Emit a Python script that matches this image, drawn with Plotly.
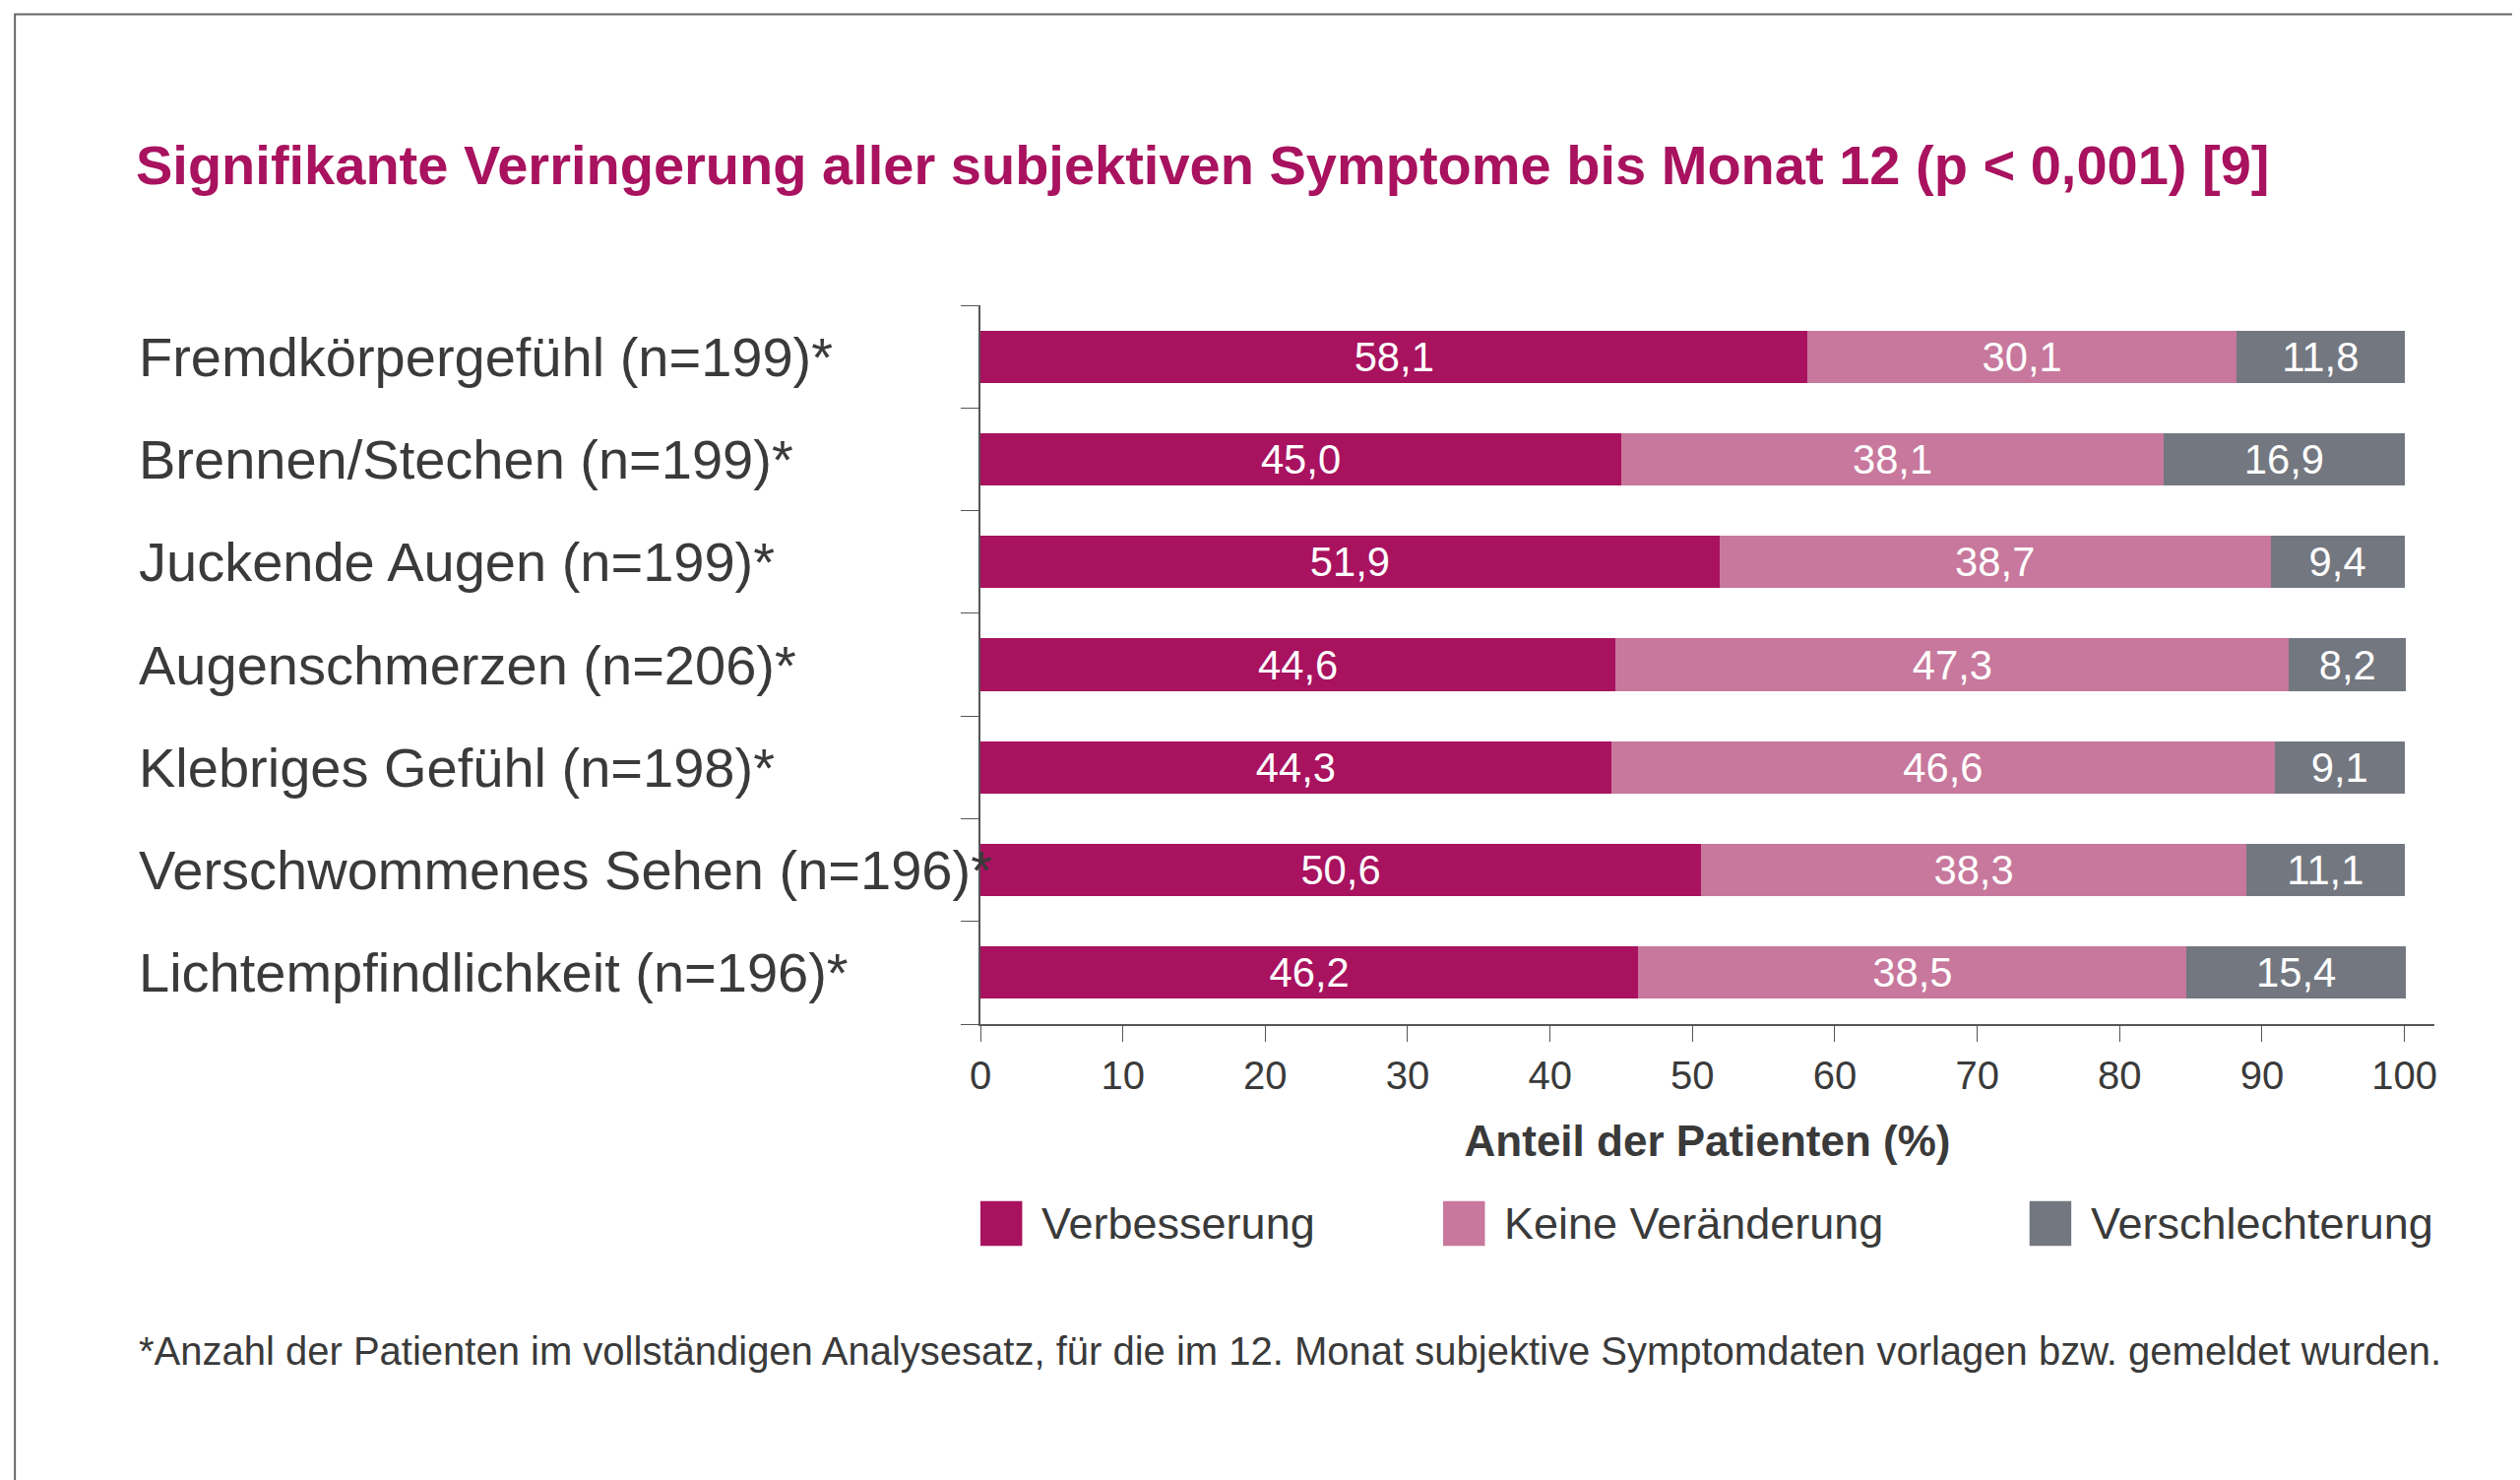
import plotly.graph_objects as go

categories = ["Fremdkörpergefühl (n=199)*", "Brennen/Stechen (n=199)*", "Juckende Augen (n=199)*",
              "Augenschmerzen (n=206)*", "Klebriges Gefühl (n=198)*", "Verschwommenes Sehen (n=196)*",
              "Lichtempfindlichkeit (n=196)*"]
verbesserung = [58.1, 45.0, 51.9, 44.6, 44.3, 50.6, 46.2]
keine = [30.1, 38.1, 38.7, 47.3, 46.6, 38.3, 38.5]
verschlechterung = [11.8, 16.9, 9.4, 8.2, 9.1, 11.1, 15.4]
series = [("Verbesserung", verbesserung, "#A8125F"),
          ("Keine Veränderung", keine, "#C7789C"),
          ("Verschlechterung", verschlechterung, "#737780")]

W, H = 2560, 1503
k = 2560 / 1568
L, R, T, B = 605 * k, 1510 * k, 185 * k, 632 * k
pw, ph = R - L, B - T
def px(x): return (x * k - L) / pw
def py(y): return (B - y * k) / ph

ypos = list(range(len(categories)))
fig = go.Figure()
for name, vals, col in series:
    fig.add_trace(go.Bar(
        y=ypos, x=vals, orientation="h", name=name, marker=dict(color=col, line=dict(width=0)),
        text=[f"{v:.1f}".replace(".", ",") for v in vals], textposition="inside",
        insidetextanchor="middle", textfont=dict(color="white", size=46), width=0.51,
        showlegend=False))

ann = [dict(x=px(80), y=i, xref="paper", yref="y", text=c, showarrow=False, xanchor="left",
            font=dict(size=56, color="#3a3a3a")) for i, c in zip(ypos, categories)]
ann += [
    dict(x=px(78), y=py(98), xref="paper", yref="paper", text="<b>Signifikante Verringerung aller subjektiven Symptome bis Monat 12 (p < 0,001) [9]</b>",
         showarrow=False, xanchor="left", yanchor="middle", font=dict(size=56, color="#A8125F")),
    dict(x=px(80), y=py(835), xref="paper", yref="paper",
         text="*Anzahl der Patienten im vollständigen Analysesatz, für die im 12. Monat subjektive Symptomdaten vorlagen bzw. gemeldet wurden.",
         showarrow=False, xanchor="left", yanchor="middle", font=dict(size=40, color="#3a3a3a")),
]
shapes = [dict(type="rect", xref="paper", yref="paper", x0=px(4), x1=px(1564), y0=py(4), y1=py(917),
               line=dict(color="#666", width=2))]
for (name, vals, col), lx in zip(series, [605, 893, 1258]):
    shapes.append(dict(type="rect", xref="paper", yref="paper", x0=px(lx), x1=px(lx + 26),
                       y0=py(742), y1=py(770), fillcolor=col, line=dict(width=0)))
    ann.append(dict(x=px(lx + 37), y=py(756), xref="paper", yref="paper", text=name, showarrow=False,
                    xanchor="left", yanchor="middle", font=dict(size=45, color="#3a3a3a")))

fig.update_layout(
    width=W, height=H, barmode="stack", paper_bgcolor="white", plot_bgcolor="white",
    margin=dict(l=L, r=W - R, t=T, b=H - B), showlegend=False,
    font=dict(family="Liberation Sans, Arial, sans-serif", color="#3a3a3a"),
    annotations=ann, shapes=shapes,
    xaxis=dict(range=[0, 102.1], tickvals=list(range(0, 101, 10)), ticks="outside", ticklen=16,
               tickcolor="#555", showline=True, linecolor="#555", linewidth=2, showgrid=False,
               zeroline=False, tickfont=dict(size=40),
               title=dict(text="<b>Anteil der Patienten (%)</b>", font=dict(size=44), standoff=30)),
    yaxis=dict(range=[6.5, -0.5], tickvals=[i - 0.5 for i in range(8)], ticktext=[""] * 8,
               ticks="outside", ticklen=18, tickcolor="#555", showline=True, linecolor="#555",
               linewidth=2, showgrid=False, zeroline=False),
)
fig.write_html("out.html")
